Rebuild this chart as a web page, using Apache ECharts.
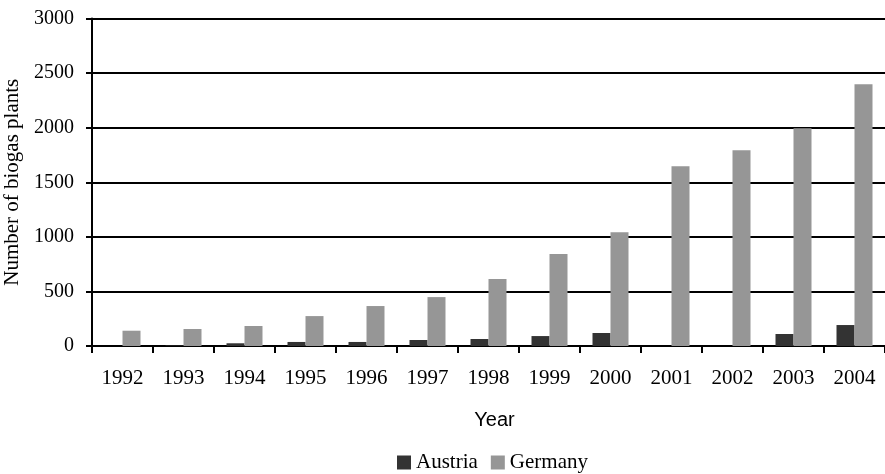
<!DOCTYPE html>
<html>
<head>
<meta charset="utf-8">
<script src="https://cdn.jsdelivr.net/npm/echarts@6/dist/echarts.min.js"></script>
<style>
html,body{margin:0;padding:0;background:#fff;}
#chart{width:885px;height:474px;}
</style>
</head>
<body>
<div id="chart"></div>
<script>
const years = ['1992','1993','1994','1995','1996','1997','1998','1999','2000','2001','2002','2003','2004'];
const austria = [0, 5, 25, 37, 37, 55, 64, 91, 119, 0, 0, 110, 192];
const germany = [140, 156, 183, 274, 366, 448, 613, 842, 1043, 1647, 1793, 1995, 2397];
const yTicks = [0, 500, 1000, 1500, 2000, 2500, 3000];

const serif = '"Liberation Serif", "Times New Roman", serif';
const sans = '"Liberation Sans", Arial, sans-serif';

const chart = echarts.init(document.getElementById('chart'), null, {renderer: 'canvas'});
chart.setOption({
  animation: false,
  backgroundColor: '#ffffff',
  grid: {left: 92, right: 0, top: 18.5, bottom: 128, containLabel: false, outerBoundsMode: 'none'},
  legend: {
    data: ['Austria', 'Germany'],
    left: 397,
    top: 452,
    padding: 0,
    itemWidth: 14,
    itemHeight: 14,
    itemGap: 13,
    icon: 'rect',
    textStyle: {fontFamily: serif, fontSize: 21, color: '#000'}
  },
  xAxis: {
    type: 'category',
    data: years,
    name: 'Year',
    nameLocation: 'middle',
    nameGap: 64,
    nameTextStyle: {fontFamily: sans, fontSize: 20, color: '#000', padding: [0, 0, 0, 12]},
    axisLine: {lineStyle: {color: '#000', width: 2}},
    axisTick: {show: true, length: 7, lineStyle: {color: '#000', width: 2}},
    axisLabel: {fontFamily: serif, fontSize: 21, color: '#000', margin: 22}
  },
  yAxis: {
    type: 'value',
    min: yTicks[0],
    max: yTicks[yTicks.length - 1],
    interval: 500,
    name: 'Number of biogas plants',
    nameLocation: 'middle',
    nameGap: 60,
    nameTextStyle: {fontFamily: serif, fontSize: 21, color: '#000'},
    axisLine: {show: true, lineStyle: {color: '#000', width: 2}},
    axisTick: {show: true, length: 6, lineStyle: {color: '#000', width: 2}},
    axisLabel: {fontFamily: serif, fontSize: 20, color: '#000', margin: 18, formatter: function (v) { return String(v); }},
    splitLine: {show: true, lineStyle: {color: '#000', width: 2}}
  },
  series: [
    {name: 'Austria', type: 'bar', data: austria, barWidth: 18, barGap: '0%', itemStyle: {color: '#333333'}},
    {name: 'Germany', type: 'bar', data: germany, barWidth: 18, barGap: '0%', itemStyle: {color: '#969696'}}
  ]
});
</script>
</body>
</html>
